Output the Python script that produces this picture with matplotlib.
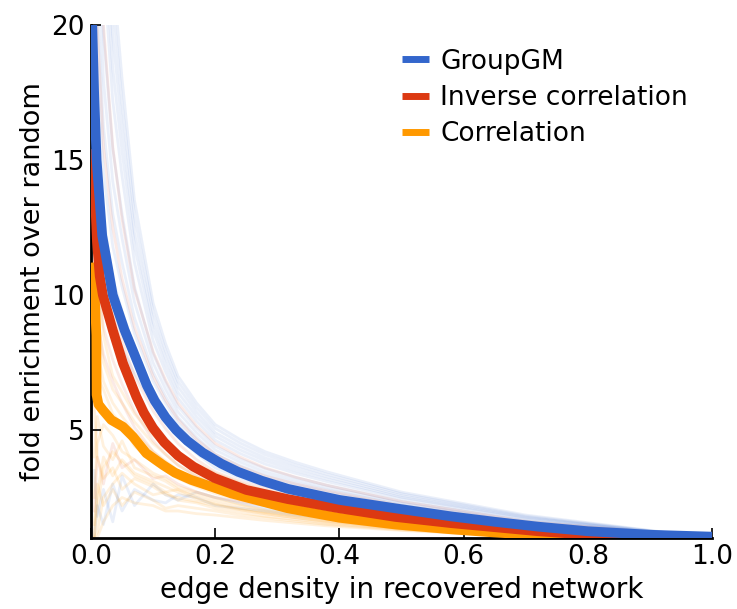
import matplotlib
matplotlib.use('Agg')
import matplotlib.pyplot as plt

# --- mean curves ---
groupgm_x = [0.002, 0.005, 0.009, 0.018, 0.0274, 0.035, 0.054, 0.0757, 0.09, 0.1026, 0.12, 0.137,
             0.155, 0.18, 0.21, 0.237, 0.275, 0.317, 0.40, 0.49, 0.58, 0.65, 0.72, 0.8, 0.9, 1.0]
groupgm_y = [20.0, 17.5, 15.0, 12.2, 11.0, 10.0, 8.7, 7.47, 6.65, 6.08, 5.47, 5.0,
             4.6, 4.16, 3.75, 3.45, 3.12, 2.82, 2.41, 2.1, 1.8, 1.6, 1.42, 1.25, 1.12, 1.05]

invcorr_x = [0.0005, 0.003, 0.006, 0.0095, 0.014, 0.019, 0.035, 0.0515, 0.073, 0.085, 0.0999, 0.118,
             0.14, 0.165, 0.199, 0.25, 0.317, 0.40, 0.49, 0.58, 0.65, 0.72, 0.8, 0.9, 1.0]
invcorr_y = [15.4, 14.6, 13.9, 12.0, 10.7, 10.0, 8.7, 7.47, 6.23, 5.64, 5.07, 4.54,
             4.05, 3.64, 3.22, 2.78, 2.44, 2.1, 1.78, 1.55, 1.4, 1.25, 1.12, 1.04, 1.0]

corr_x = [0.002, 0.006, 0.0086, 0.009, 0.012, 0.019, 0.0327, 0.0515, 0.0676, 0.089, 0.116, 0.135,
          0.1615, 0.226, 0.317, 0.40, 0.49, 0.58, 0.64, 0.72, 0.8, 0.9, 1.0]
corr_y = [11.2, 10.0, 8.5, 6.3, 5.95, 5.74, 5.37, 5.12, 4.75, 4.14, 3.7, 3.42,
          3.15, 2.65, 2.1, 1.75, 1.5, 1.32, 1.22, 1.1, 1.02, 0.98, 0.97]

# --- faint per-sample curves (a readable subset) ---
faint_x = [0.005, 0.01, 0.02, 0.035, 0.05, 0.07, 0.1, 0.12, 0.14, 0.17, 0.2, 0.24, 0.28, 0.33,
           0.38, 0.5, 0.7, 1.0]

faint_blue = [
    [40, 38, 29, 22, 18, 13.5, 9.7, 8.2, 7.0, 6.0, 5.2, 4.65, 4.2, 3.8, 3.45, 2.7, 1.85, 1.0],
    [37.8, 35.7, 27.3, 20.8, 17.1, 12.9, 9.36, 7.94, 6.8, 5.83, 5.06, 4.52, 4.09, 3.7, 3.36, 2.64, 1.81, 1.0],
    [35.5, 33.4, 25.6, 19.6, 16.2, 12.3, 9.0, 7.68, 6.6, 5.66, 4.9, 4.39, 3.97, 3.6, 3.27, 2.57, 1.77, 1.01],
    [33.3, 31.0, 23.9, 18.4, 15.3, 11.8, 8.68, 7.42, 6.39, 5.49, 4.77, 4.26, 3.86, 3.49, 3.18, 2.51, 1.74, 1.01],
    [31.0, 28.7, 22.2, 17.2, 14.4, 11.2, 8.3, 7.16, 6.18, 5.32, 4.62, 4.13, 3.74, 3.39, 3.09, 2.45, 1.7, 1.02],
    [27.6, 25.2, 19.65, 15.4, 13.0, 10.3, 7.83, 6.77, 5.87, 5.07, 4.40, 3.93, 3.57, 3.24, 2.96, 2.35, 1.64, 1.03],
    [25.4, 22.9, 17.95, 14.2, 12.1, 9.73, 7.49, 6.51, 5.67, 4.9, 4.26, 3.81, 3.45, 3.14, 2.87, 2.29, 1.6, 1.03],
    [23.1, 20.6, 16.25, 13.0, 11.2, 9.15, 7.15, 6.25, 5.46, 4.73, 4.11, 3.68, 3.34, 3.04, 2.78, 2.23, 1.56, 1.04],
    [20.9, 18.3, 14.55, 11.8, 10.3, 8.57, 6.81, 5.99, 5.26, 4.56, 3.97, 3.55, 3.22, 2.94, 2.69, 2.17, 1.53, 1.04],
    [18.6, 16.0, 12.85, 10.6, 9.4, 8.0, 6.47, 5.73, 5.05, 4.39, 3.82, 3.42, 3.11, 2.84, 2.6, 2.1, 1.49, 1.05],
    [15.2, 12.5, 10.3, 8.8, 8.0, 7.1, 5.96, 5.34, 4.75, 4.13, 3.6, 3.22, 2.93, 2.68, 2.46, 2.0, 1.43, 1.05],
    [1.0, 2.2, 1.5, 3.0, 2.0, 2.8, 2.4, 2.3, 2.6, 2.5, 2.2, 2.1, 2.0, 1.85, 1.75, 1.55, 1.3, 1.0],
    [3.5, 1.8, 2.8, 1.6, 3.3, 2.2, 3.0, 2.6, 2.4, 2.7, 2.5, 2.3, 2.1, 1.95, 1.8, 1.6, 1.3, 1.0],
]

faint_red = [
    [30, 26, 20, 15.5, 12.8, 10.2, 7.9, 6.85, 6.0, 5.15, 4.5, 4.0, 3.6, 3.25, 2.95, 2.35, 1.62, 1.02],
    [24, 20, 15.5, 12.5, 10.6, 8.8, 7.0, 6.1, 5.4, 4.65, 4.1, 3.65, 3.3, 3.0, 2.75, 2.2, 1.55, 1.02],
    [17, 14, 11.2, 9.5, 8.3, 7.0, 5.7, 5.05, 4.5, 3.9, 3.45, 3.1, 2.85, 2.58, 2.38, 1.92, 1.38, 1.02],
    [15.5, 13, 10.5, 9.0, 7.9, 6.6, 5.3, 4.7, 4.2, 3.7, 3.3, 2.95, 2.7, 2.46, 2.28, 1.83, 1.33, 1.0],
    [12, 10.5, 8.8, 7.6, 6.7, 5.7, 4.6, 4.1, 3.7, 3.28, 2.95, 2.65, 2.45, 2.24, 2.08, 1.7, 1.25, 1.0],
    [10, 9, 7.8, 6.8, 6.0, 5.1, 4.2, 3.8, 3.45, 3.05, 2.75, 2.5, 2.3, 2.12, 1.97, 1.62, 1.22, 1.0],
    [2.0, 4.0, 3.0, 4.5, 3.6, 3.9, 3.2, 3.3, 3.0, 2.7, 2.5, 2.35, 2.2, 2.05, 1.9, 1.6, 1.25, 1.0],
]

faint_orange = [
    [20, 15, 11, 8.8, 7.5, 6.3, 5.2, 4.65, 4.2, 3.75, 3.4, 3.05, 2.75, 2.48, 2.25, 1.78, 1.25, 1.0],
    [15, 11, 8.5, 7.0, 6.4, 5.6, 4.8, 4.4, 4.0, 3.6, 3.3, 2.95, 2.65, 2.38, 2.15, 1.7, 1.22, 1.0],
    [12, 9.5, 7.5, 6.5, 6.0, 5.3, 4.5, 4.1, 3.7, 3.3, 3.0, 2.7, 2.45, 2.2, 2.0, 1.6, 1.2, 1.0],
    [9, 8, 6.8, 6.0, 5.5, 4.9, 4.2, 3.85, 3.5, 3.1, 2.85, 2.55, 2.32, 2.1, 1.9, 1.55, 1.15, 0.98],
    [8, 7, 6.5, 5.6, 5.2, 4.4, 3.8, 3.5, 3.2, 2.9, 2.65, 2.4, 2.2, 2.0, 1.8, 1.45, 1.1, 0.98],
    [2.5, 4.5, 5.2, 4.8, 4.2, 3.9, 3.4, 3.2, 2.9, 2.7, 2.5, 2.25, 2.05, 1.88, 1.7, 1.4, 1.1, 0.98],
    [4, 5.5, 4.4, 3.9, 4.6, 3.6, 3.3, 3.1, 2.8, 2.6, 2.4, 2.2, 2.0, 1.85, 1.7, 1.42, 1.1, 0.98],
    [1.5, 2.6, 4.0, 3.3, 3.9, 3.4, 3.1, 2.9, 2.7, 2.45, 2.25, 2.05, 1.9, 1.75, 1.62, 1.36, 1.07, 0.98],
    [1.0, 2.0, 3.6, 4.2, 3.8, 3.3, 3.0, 2.7, 2.8, 2.5, 2.3, 2.1, 1.95, 1.8, 1.65, 1.38, 1.08, 0.98],
    [6, 4.0, 3.2, 3.6, 2.8, 3.2, 2.9, 2.6, 2.5, 2.35, 2.2, 2.05, 1.9, 1.75, 1.6, 1.35, 1.08, 0.98],
    [1.0, 1.2, 2.5, 3.0, 3.4, 3.0, 2.6, 2.7, 2.4, 2.3, 2.1, 1.95, 1.8, 1.68, 1.55, 1.32, 1.06, 0.98],
    [1.0, 3.0, 2.2, 2.8, 2.2, 2.7, 2.4, 2.1, 2.2, 2.1, 2.0, 1.85, 1.75, 1.62, 1.5, 1.3, 1.06, 0.98],
    [1.0, 1.0, 1.6, 2.2, 2.5, 2.3, 2.2, 2.0, 2.0, 1.9, 1.85, 1.75, 1.65, 1.55, 1.45, 1.28, 1.05, 0.98],
]

BLUE = '#3366cc'
RED = '#dc3912'
ORANGE = '#ff9900'

plt.rcParams.update({'font.family': 'DejaVu Sans', 'font.size': 18})

fig = plt.figure(figsize=(7.37, 6.09), dpi=100)
ax = fig.add_axes([0.1235, 0.1166, 0.8425, 0.8424])

for ys in faint_blue:
    ax.plot(faint_x, ys, color=BLUE, lw=2, alpha=0.1, zorder=1, solid_joinstyle='round')
for ys in faint_red:
    ax.plot(faint_x, ys, color=RED, lw=2, alpha=0.1, zorder=1, solid_joinstyle='round')
for ys in faint_orange:
    ax.plot(faint_x, ys, color=ORANGE, lw=2, alpha=0.13, zorder=1, solid_joinstyle='round')

kw = dict(lw=7, solid_capstyle='butt', solid_joinstyle='round')
ax.plot(corr_x, corr_y, color=ORANGE, zorder=3, label='Correlation', **kw)
ax.plot(invcorr_x, invcorr_y, color=RED, zorder=4, label='Inverse correlation', **kw)
ax.plot(groupgm_x, groupgm_y, color=BLUE, zorder=5, label='GroupGM', **kw)

ax.set_xlim(0, 1)
ax.set_ylim(1, 20)
ax.set_xticks([0.0, 0.2, 0.4, 0.6, 0.8, 1.0])
ax.set_yticks([5, 10, 15, 20])
ax.tick_params(direction='in', length=7, width=1.2, top=False, right=False, pad=4.5,
               labelsize=19)

for side in ['top', 'right']:
    ax.spines[side].set_visible(False)
for side in ['left', 'bottom']:
    ax.spines[side].set_linewidth(2)

ax.set_xlabel('edge density in recovered network', fontsize=20, labelpad=4)
ax.set_ylabel('fold enrichment over random', fontsize=19.5, labelpad=4)

handles, labels = ax.get_legend_handles_labels()
leg = ax.legend(handles[::-1], labels[::-1], loc='upper right', frameon=False,
                fontsize=19, handlelength=1.0, handletextpad=0.45, labelspacing=0.38,
                bbox_to_anchor=(1.0, 1.0))
for h in leg.get_lines():
    h.set_linewidth(5)

fig.savefig('out.png', dpi=100)
